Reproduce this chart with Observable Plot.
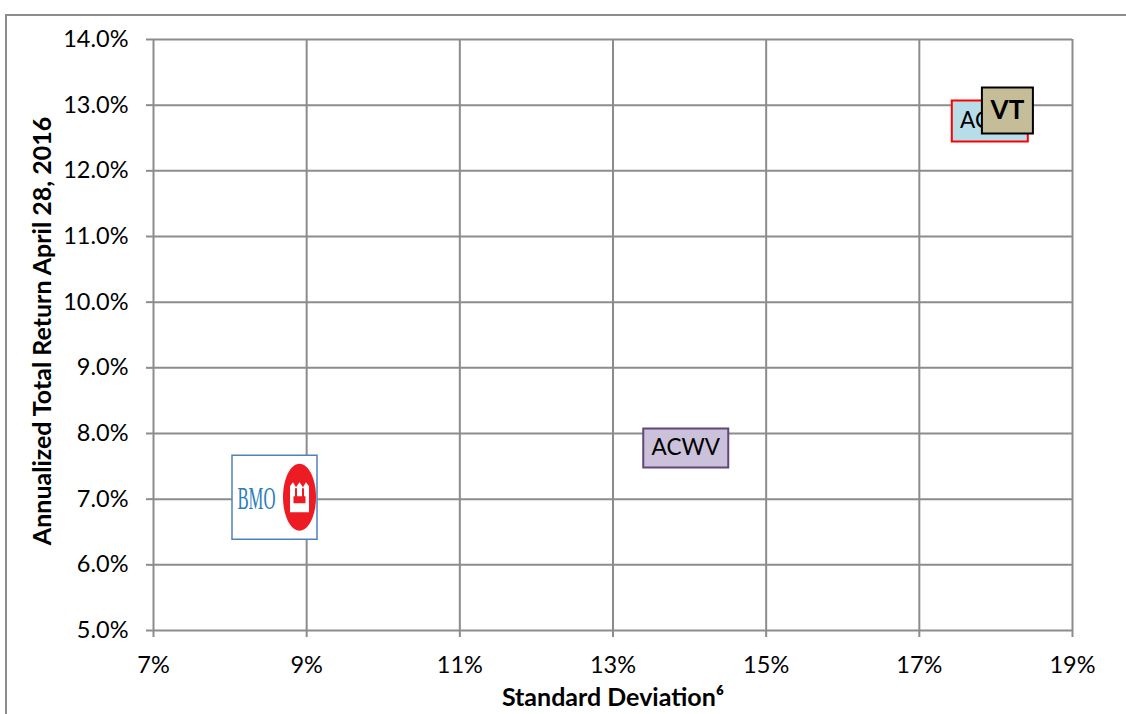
<!DOCTYPE html>
<html><head><meta charset="utf-8">
<script src="https://cdn.jsdelivr.net/npm/d3@7"></script>
<script src="https://cdn.jsdelivr.net/npm/@observablehq/plot@0.6"></script>
<style>
html,body{margin:0;padding:0;background:#fff;overflow:hidden;}
#wrap{position:relative;width:1126px;height:714px;overflow:hidden;}
#border{position:absolute;left:5px;top:14px;width:1300px;height:900px;border:2px solid #8c8c8c;box-sizing:border-box;pointer-events:none;}
svg{display:block;position:absolute;left:0;top:0;}
</style></head><body>
<div id="wrap"><div id="border"></div></div>
<script>
// ---- data ----
const funds = ["BMO", "ACWV", "ACWI", "VT"];
const stdDev = [8.58, 13.95, 17.92, 18.15];      // %
const annReturn = [7.03, 7.78, 12.76, 12.92];    // %
const xTicks = [7, 9, 11, 13, 15, 17, 19];
const yTicks = [5, 6, 7, 8, 9, 10, 11, 12, 13, 14];
const xLabel = "Standard Deviation\u2076";
const yLabel = "Annualized Total Return April 28, 2016";

const data = funds.map((f, i) => ({fund: f, sd: stdDev[i], ret: annReturn[i]}));
const pick = f => data.filter(d => d.fund === f);

// ---- styles ----
const grid = "#8c8c8c";
const boxStyle = {
  BMO:  {w: 85, h: 84, fill: "#ffffff", stroke: "#4f81bd", sw: 1.5},
  ACWV: {w: 85, h: 39, fill: "#ccc1da", stroke: "#5f497a", sw: 2},
  ACWI: {w: 76, h: 41, fill: "#b7dee8", stroke: "#ff0000", sw: 2},
  VT:   {w: 51, h: 46, fill: "#c4bd97", stroke: "#000000", sw: 2}
};
function rectSymbol(w, h) { return {draw(ctx) { ctx.rect(-w / 2, -h / 2, w, h); }}; }
function ellipseSymbol(cx, rx, ry) {
  return {draw(ctx) {
    const k = 0.5523;
    ctx.moveTo(cx + rx, 0);
    ctx.bezierCurveTo(cx + rx, ry * k, cx + rx * k, ry, cx, ry);
    ctx.bezierCurveTo(cx - rx * k, ry, cx - rx, ry * k, cx - rx, 0);
    ctx.bezierCurveTo(cx - rx, -ry * k, cx - rx * k, -ry, cx, -ry);
    ctx.bezierCurveTo(cx + rx * k, -ry, cx + rx, -ry * k, cx + rx, 0);
    ctx.closePath();
  }};
}
function mSymbol(cx) {
  return {draw(ctx) {
    ctx.moveTo(cx - 9.5, 15);
    ctx.lineTo(cx - 9.5, -11);
    ctx.lineTo(cx - 6.5, -15);
    ctx.lineTo(cx - 3.5, -10);
    ctx.lineTo(cx, -15);
    ctx.lineTo(cx + 3.5, -10);
    ctx.lineTo(cx + 6.5, -15);
    ctx.lineTo(cx + 9.5, -11);
    ctx.lineTo(cx + 9.5, 15);
    ctx.closePath();
  }};
}
function notchSymbol(cx) { return {draw(ctx) { ctx.rect(cx - 6, -1, 12, 7); ctx.rect(cx - 4.5, -9, 2, 8); ctx.rect(cx + 2.5, -9, 2, 8); }}; }

const boxMark = f => Plot.dot(pick(f), {x: "sd", y: "ret", symbol: rectSymbol(boxStyle[f].w, boxStyle[f].h),
  fill: boxStyle[f].fill, stroke: boxStyle[f].stroke, strokeWidth: boxStyle[f].sw});

const chart = Plot.plot({
  width: 1126, height: 714,
  marginLeft: 153, marginRight: 54, marginTop: 39, marginBottom: 84,
  x: {domain: [7, 19]},
  y: {domain: [5, 14]},
  style: {fontFamily: "Lato, 'Open Sans', sans-serif", fontSize: "23px", background: "transparent", overflow: "visible", color: "black"},
  marks: [
    Plot.gridX(xTicks, {stroke: grid, strokeOpacity: 1, strokeWidth: 2}),
    Plot.gridY(yTicks, {stroke: grid, strokeOpacity: 1, strokeWidth: 2}),
    Plot.axisY(yTicks, {tickSize: 7, tickPadding: 18, tickFormat: d => d.toFixed(1) + "%", stroke: grid, strokeWidth: 2, label: null, fontSize: 23.5}),
    Plot.axisX(xTicks, {tickSize: 7, tickPadding: 19, tickFormat: d => d + "%", stroke: grid, strokeWidth: 2, label: null, fontSize: 23.5}),
    Plot.text([yLabel], {frameAnchor: "left", textAnchor: "middle", dx: -111, dy: -4, rotate: -90, fontWeight: "bold", fontSize: 25}),
    Plot.text([xLabel], {frameAnchor: "bottom", dy: 75, fontWeight: "bold", fontSize: 25}),
    // ACWV
    boxMark("ACWV"),
    Plot.text(pick("ACWV"), {x: "sd", y: "ret", text: "fund", fontSize: 22.5, fill: "black"}),
    // BMO logo
    boxMark("BMO"),
    Plot.text(pick("BMO"), {x: "sd", y: "ret", text: "fund", dx: -18, dy: 2, fontFamily: "'Liberation Serif', serif", fontSize: 31, fill: "#2b7bc0", className: "bmo-word"}),
    Plot.dot(pick("BMO"), {x: "sd", y: "ret", symbol: ellipseSymbol(25, 16.5, 33.5), fill: "#ed1c24"}),
    Plot.dot(pick("BMO"), {x: "sd", y: "ret", symbol: mSymbol(25), fill: "#ffffff"}),
    Plot.dot(pick("BMO"), {x: "sd", y: "ret", symbol: notchSymbol(25), fill: "#ed1c24"}),
    // ACWI
    boxMark("ACWI"),
    Plot.text(pick("ACWI"), {x: "sd", y: "ret", text: "fund", fontSize: 22.5, fill: "black"}),
    // VT
    boxMark("VT"),
    Plot.text(pick("VT"), {x: "sd", y: "ret", text: "fund", fontSize: 26, fontWeight: "bold", fill: "black"})
  ]
});
document.getElementById("wrap").insertBefore(chart, document.getElementById("border"));
d3.select(chart).selectAll(".bmo-word text").attr("textLength", 38).attr("lengthAdjust", "spacingAndGlyphs");
</script>
</body></html>
